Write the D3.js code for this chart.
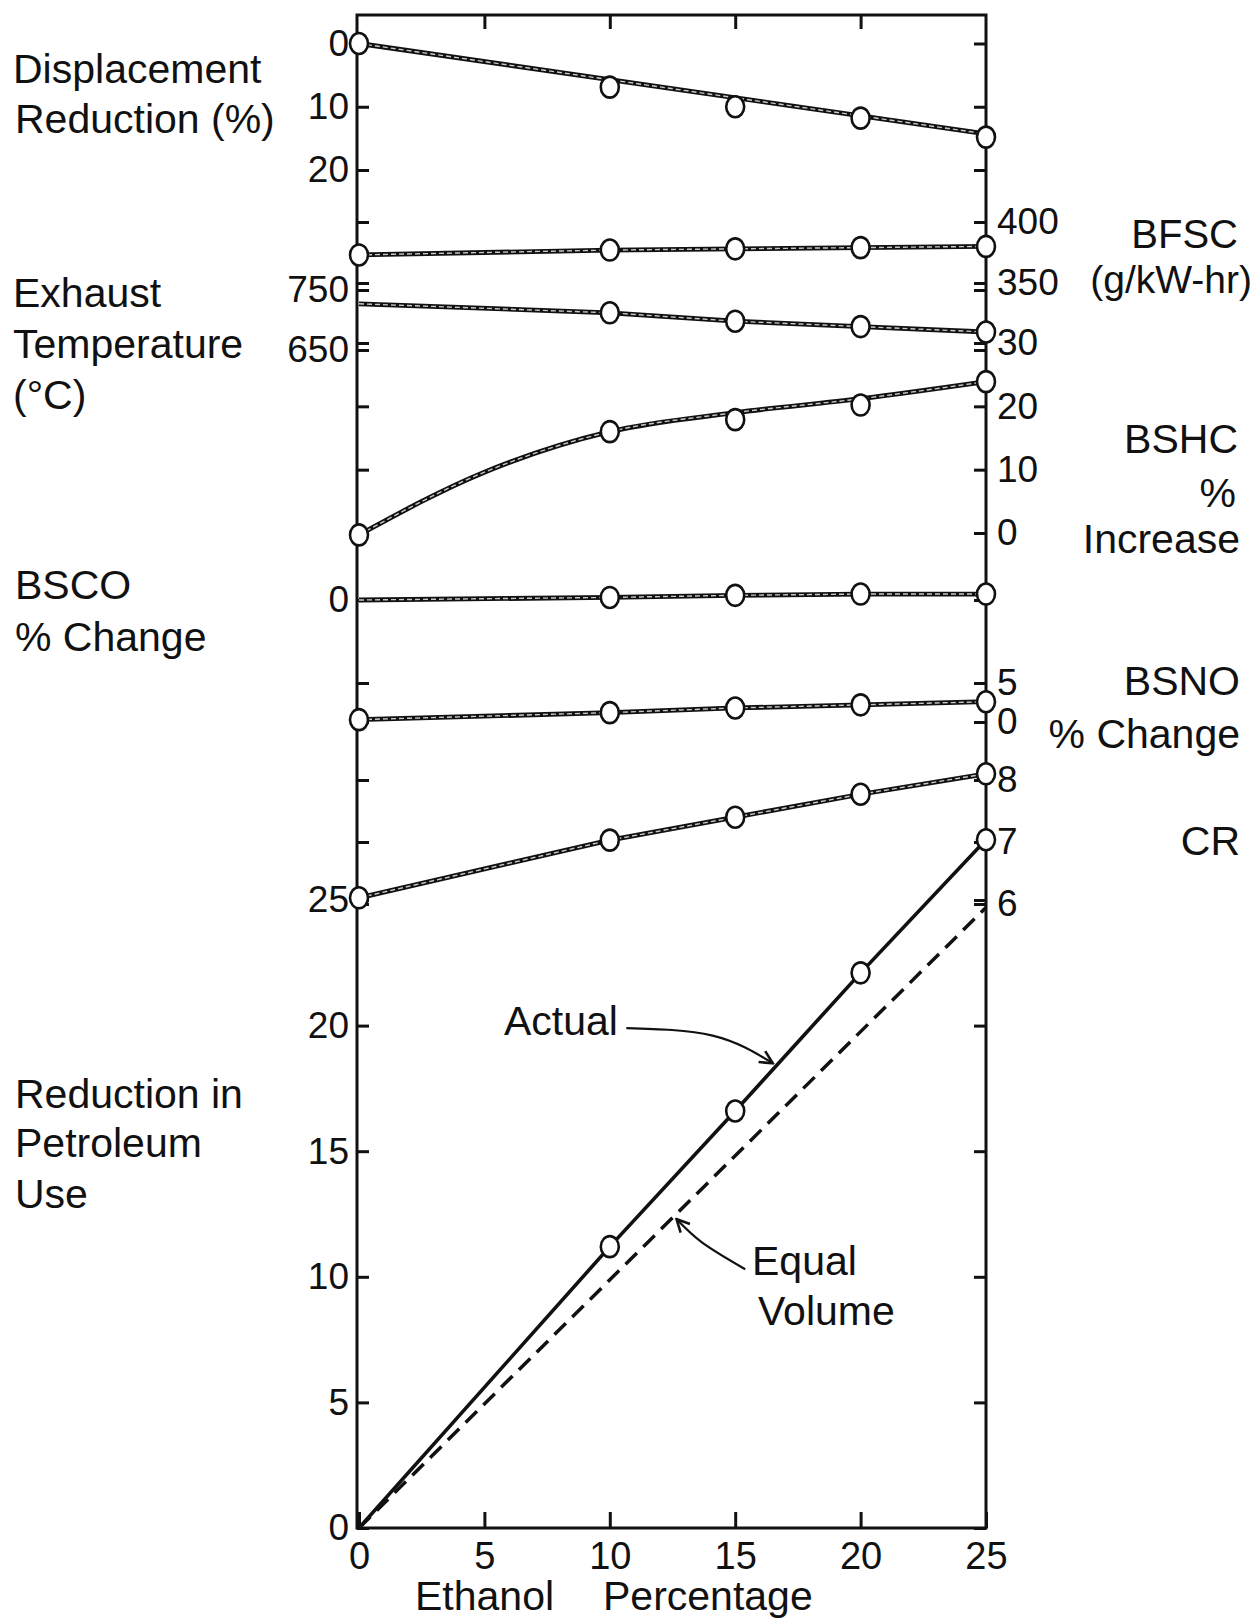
<!DOCTYPE html>
<html>
<head>
<meta charset="utf-8">
<script src="https://cdn.jsdelivr.net/npm/d3@7"></script>
<style>
  body { margin: 0; background: #fff; }
  text { font-family: "Liberation Sans", Arial, sans-serif; fill: #111; }
</style>
</head>
<body>
<svg id="chart" width="1259" height="1621"></svg>
<script>
// ethanol blend levels (x axis)
var ethanol = [0, 10, 15, 20, 25];
var ethanolEnds = [0, 25];
var xTicks = [0, 5, 10, 15, 20, 25];

// series, one value per ethanol level
var displacementReduction = [0, 6.9, 10.0, 11.8, 14.8];
var displacementFit = [0, 14.3];            // drawn fit line, at ethanolEnds
var bfsc = [373, 377, 378, 379, 380];       // g/kW-hr
var exhaustTemp = [727, 712, 698, 689, 680];// deg C
var bshcIncrease = [-0.3, 16.0, 17.9, 20.2, 23.9];
var bshcCurveX = [0, 5, 10, 15, 20, 25];
var bshcCurve = [-0.3, 9.6, 16.0, 19.0, 21.2, 23.9];
var bscoChange = [0, 0.3, 0.55, 0.7, 0.7];
var bsnoChange = [0.3, 1.2, 1.8, 2.2, 2.6];
var compressionRatio = [6.1, 7.03, 7.4, 7.77, 8.1];
var petroleumActual = [0, 11.2, 16.6, 22.1, 27.4];
var petroleumEqualVolume = [0, 24.7];       // at ethanolEnds

// tick values for each stacked scale
var dispTicks = [0, 10, 20];
var bfscTicks = [350, 400];
var exhaustTicks = [650, 750];
var bshcTicks = [0, 10, 20, 30];
var bscoTicks = [0];
var bsnoTicks = [0, 5];
var crTicks = [6, 7, 8];
var petroTicks = [0, 5, 10, 15, 20, 25];

var svg = d3.select("#chart");
var frame = { left: 357, right: 986, top: 15, bottom: 1528 };
var ink = "#111";

var x = d3.scaleLinear().domain([0, 25]).range([359, 986]);

var yDisp = d3.scaleLinear().domain([0, 20]).range([43.5, 170]);
var yBfsc = d3.scaleLinear().domain([350, 400]).range([283, 222]);
var yExh = d3.scaleLinear().domain([650, 750]).range([350, 290]);
var yBshc = d3.scaleLinear().domain([0, 30]).range([533, 343]);
var yBsco = d3.scaleLinear().domain([0, -10]).range([600, 685]);
var yBsno = d3.scaleLinear().domain([0, 5]).range([722, 683]);
var yCr = d3.scaleLinear().domain([6, 8]).range([904, 780]);
var yPetro = d3.scaleLinear().domain([0, 25]).range([1528, 900]);

svg.append("rect")
    .attr("x", frame.left).attr("y", frame.top)
    .attr("width", frame.right - frame.left)
    .attr("height", frame.bottom - frame.top)
    .attr("fill", "none").attr("stroke", ink).attr("stroke-width", 3);

function sideAxis(scale, ticks, side, labelled) {
  var ax = (side == "left" ? d3.axisLeft(scale) : d3.axisRight(scale))
      .tickValues(ticks).tickSizeInner(-12).tickSizeOuter(0)
      .tickPadding(side == "left" ? 8 : 11)
      .tickFormat(labelled ? d3.format("d") : "");
  var g = svg.append("g")
      .attr("transform", "translate(" + (side == "left" ? frame.left : frame.right) + ",0)")
      .call(ax);
  g.select(".domain").remove();
  g.selectAll("line").attr("stroke", ink).attr("stroke-width", 3);
  g.attr("font-size", 37);
}

var panels = [
  { y: yDisp, ticks: dispTicks, side: "left" },
  { y: yBfsc, ticks: bfscTicks, side: "right" },
  { y: yExh, ticks: exhaustTicks, side: "left" },
  { y: yBshc, ticks: bshcTicks, side: "right" },
  { y: yBsco, ticks: bscoTicks, side: "left" },
  { y: yBsno, ticks: bsnoTicks, side: "right" },
  { y: yCr, ticks: crTicks, side: "right" },
  { y: yPetro, ticks: petroTicks, side: "left" }
];
panels.forEach(function(p) {
  sideAxis(p.y, p.ticks, p.side, true);
  sideAxis(p.y, p.ticks, p.side == "left" ? "right" : "left", false);
});

// x axis, ticks pointing up, plus unlabeled ticks along the top edge
var xAxis = svg.append("g")
    .attr("transform", "translate(0," + frame.bottom + ")")
    .call(d3.axisBottom(x).tickValues(xTicks).tickSizeInner(-16).tickSizeOuter(0).tickPadding(14));
xAxis.select(".domain").remove();
xAxis.selectAll("line").attr("stroke", ink).attr("stroke-width", 3);
xAxis.attr("font-size", 38);

var topAxis = svg.append("g")
    .attr("transform", "translate(0," + frame.top + ")")
    .call(d3.axisTop(x).tickValues(xTicks.slice(1, -1)).tickSizeInner(-14).tickSizeOuter(0).tickFormat(""));
topAxis.select(".domain").remove();
topAxis.selectAll("line").attr("stroke", ink).attr("stroke-width", 3);

// stacked series
var series = [
  { values: displacementReduction, y: yDisp, lineX: ethanolEnds, lineY: displacementFit, first: true },
  { values: bfsc, y: yBfsc, first: true },
  { values: exhaustTemp, y: yExh, first: false },
  { values: bshcIncrease, y: yBshc, lineX: bshcCurveX, lineY: bshcCurve, first: true, curve: d3.curveMonotoneX },
  { values: bscoChange, y: yBsco, first: false },
  { values: bsnoChange, y: yBsno, first: true },
  { values: compressionRatio, y: yCr, first: true }
];

function drawMarkers(xs, ys, yScale) {
  svg.append("g").selectAll("ellipse")
    .data(xs.map(function(e, i) { return [e, ys[i]]; }))
    .enter().append("ellipse")
      .attr("cx", function(d) { return x(d[0]); })
      .attr("cy", function(d) { return yScale(d[1]); })
      .attr("rx", 9).attr("ry", 10.5)
      .attr("fill", "#fff").attr("stroke", ink).attr("stroke-width", 2.6);
}

series.forEach(function(s) {
  var lx = s.lineX || ethanol, ly = s.lineY || s.values;
  var line = d3.line()
      .x(function(d) { return x(d[0]); })
      .y(function(d) { return s.y(d[1]); })
      .curve(s.curve || d3.curveLinear);
  var pts = lx.map(function(e, i) { return [e, ly[i]]; });
  svg.append("path").attr("d", line(pts))
      .attr("fill", "none").attr("stroke", ink).attr("stroke-width", 4.8);
  svg.append("path").attr("d", line(pts))
      .attr("fill", "none").attr("stroke", "#c9c9c9").attr("stroke-width", 1.4)
      .attr("stroke-dasharray", "5 3");
  var start = s.first ? 0 : 1;
  drawMarkers(ethanol.slice(start), s.values.slice(start), s.y);
});

// petroleum use panel
var petroLine = d3.line()
    .x(function(d) { return x(d[0]); })
    .y(function(d) { return yPetro(d[1]); });

svg.append("path")
    .attr("d", petroLine(ethanolEnds.map(function(e, i) { return [e, petroleumEqualVolume[i]]; })))
    .attr("fill", "none").attr("stroke", ink).attr("stroke-width", 3.5)
    .attr("stroke-dasharray", "16 9");
svg.append("path")
    .attr("d", petroLine(ethanol.map(function(e, i) { return [e, petroleumActual[i]]; })))
    .attr("fill", "none").attr("stroke", ink).attr("stroke-width", 3.6);
drawMarkers(ethanol.slice(1), petroleumActual.slice(1), yPetro);

// annotation arrows (in ethanol / petroleum units)
svg.append("defs").append("marker")
    .attr("id", "head").attr("viewBox", "0 0 10 10")
    .attr("refX", 9).attr("refY", 5)
    .attr("markerWidth", 16).attr("markerHeight", 16)
    .attr("markerUnits", "userSpaceOnUse").attr("orient", "auto")
  .append("path").attr("d", "M1,1 L9,5 L1,9")
    .attr("fill", "none").attr("stroke", ink).attr("stroke-width", 1.6);

var arrowLine = d3.line()
    .x(function(d) { return x(d[0]); })
    .y(function(d) { return yPetro(d[1]); })
    .curve(d3.curveNatural);
var arrows = [
  [[10.66, 19.9], [14.1, 19.6], [16.5, 18.5]],
  [[15.4, 10.3], [13.7, 11.35], [12.66, 12.3]]
];
arrows.forEach(function(a) {
  svg.append("path").attr("d", arrowLine(a))
      .attr("fill", "none").attr("stroke", ink).attr("stroke-width", 2.2)
      .attr("marker-end", "url(#head)");
});

// titles
function label(txt, px, py, anchor, size) {
  svg.append("text").attr("x", px).attr("y", py)
      .attr("text-anchor", anchor || "start")
      .attr("font-size", size || 41).text(txt);
}
label("Displacement", 13, 83);
label("Reduction (%)", 15, 133);
label("Exhaust", 13, 307);
label("Temperature", 13, 358);
label("(°C)", 13, 409);
label("BSCO", 15, 599);
label("% Change", 15, 651);
label("Reduction in", 15, 1108);
label("Petroleum", 15, 1157);
label("Use", 15, 1208);

label("BFSC", 1238, 248, "end", 40);
label("(g/kW-hr)", 1252, 293, "end", 39);
label("BSHC", 1238, 453, "end");
label("%", 1236, 507, "end");
label("Increase", 1240, 553, "end");
label("BSNO", 1240, 695, "end");
label("% Change", 1240, 748, "end");
label("CR", 1240, 855, "end");

label("Actual", 504, 1035);
label("Equal", 752, 1275);
label("Volume", 758, 1325);

label("Ethanol", 415, 1610);
label("Percentage", 603, 1610);
</script>
</body>
</html>
